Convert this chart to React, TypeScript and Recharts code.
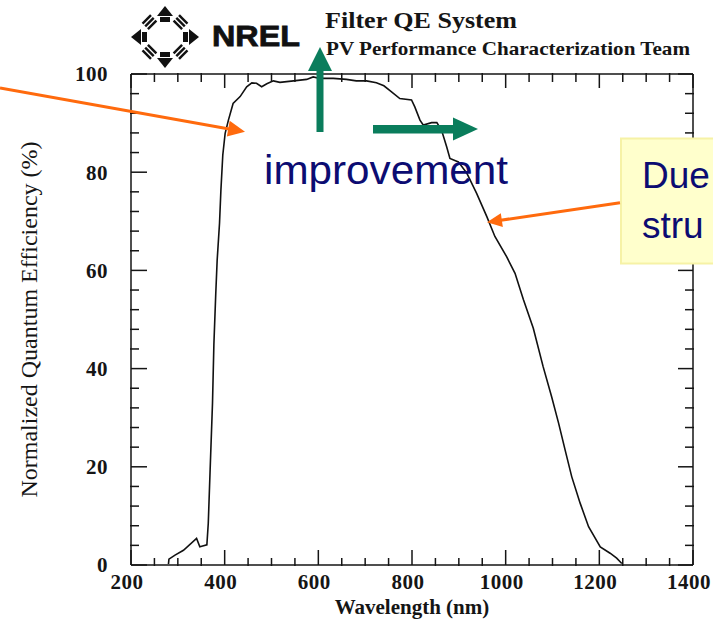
import React from 'react'
import { LineChart, Line, XAxis, YAxis } from 'recharts'

// (nm, normalized QE %)
const wavelength = [
  280, 281, 294, 312, 340, 347, 351, 362, 365, 369, 374, 377, 381, 384, 389, 392, 396,
  401, 408, 418, 433, 447, 458, 468, 479, 490, 504, 518, 547, 575, 589, 603, 632, 660,
  681, 703, 724, 740, 753, 774, 799, 806, 817, 824, 842, 853, 863, 874, 881, 899, 917,
  938, 960, 977, 1002, 1020, 1038, 1059, 1080, 1098, 1113, 1127, 1141, 1159, 1177,
  1202, 1223, 1237, 1248,
]
const efficiency = [
  0.2, 1.2, 2.0, 3.0, 5.4, 3.7, 3.8, 4.1, 8.5, 19.5, 32.9, 45.0, 55.3, 62.1, 69.6, 76.4, 83.5,
  87.9, 90.6, 94.0, 95.4, 97.4, 98.2, 98.1, 97.4, 98.0, 98.6, 98.3, 98.6, 98.9, 99.4, 99.1, 99.1, 98.9,
  98.6, 98.6, 98.2, 97.6, 96.6, 95.0, 94.7, 93.3, 90.6, 89.6, 90.1, 90.1, 88.6, 85.2, 82.8, 82.1, 79.8,
  75.7, 70.9, 66.9, 62.8, 59.4, 54.0, 48.2, 40.4, 34.3, 28.9, 23.4, 18.0, 12.6, 7.8,
  3.7, 2.4, 1.4, 0.3,
]

const xMajorTicks = [200, 400, 600, 800, 1000, 1200, 1400]
const xMinorTicks = [250, 300, 350, 450, 500, 550, 650, 700, 750, 850, 900, 950, 1050, 1100, 1150, 1250, 1300, 1350]
const yMajorTicks = [0, 20, 40, 60, 80, 100]
const yMinorTicks = [4, 8, 12, 16, 24, 28, 32, 36, 44, 48, 52, 56, 64, 68, 72, 76, 84, 88, 92, 96]

const data = wavelength.map((w, i) => ({ w, qe: efficiency[i] }))

const INK = '#151515'
const SERIF = '"Liberation Serif", "Times New Roman", serif'
const SANS = '"Liberation Sans", Arial, sans-serif'
const NAVY = '#0c0c72'
const ORANGE = '#ff6a0d'
const GREEN = '#0a7d5c'

const frame = { stroke: INK, strokeWidth: 1.5 }
const tickFont = { fill: INK, fontSize: 21, fontFamily: SERIF, fontWeight: 'bold', letterSpacing: 0.5 }
const blank = () => ''

function arrowHead(x1: number, y1: number, x2: number, y2: number, len: number, half: number) {
  const dx = x2 - x1
  const dy = y2 - y1
  const d = Math.hypot(dx, dy)
  const ux = dx / d
  const uy = dy / d
  const bx = x2 - ux * len
  const by = y2 - uy * len
  return `${x2},${y2} ${bx - uy * half},${by + ux * half} ${bx + uy * half},${by - ux * half}`
}

function Logo() {
  const cx = 165
  const cy = 37
  const diag = [45, 135, 225, 315]
  return (
    <g fill="#111">
      <polygon points={`${cx},6 ${cx - 8},16 ${cx + 8},16`} />
      <rect x={cx - 5} y={17} width={10} height={5} />
      <polygon points={`${cx},68 ${cx - 8},58 ${cx + 8},58`} />
      <rect x={cx - 5} y={52} width={10} height={5} />
      <polygon points={`131,${cy} 141,${cy - 8} 141,${cy + 8}`} />
      <rect x={142} y={cy - 5} width={5} height={10} />
      <polygon points={`199,${cy} 189,${cy - 8} 189,${cy + 8}`} />
      <rect x={183} y={cy - 5} width={5} height={10} />
      {diag.map(a => {
        const r = (a * Math.PI) / 180
        const px = cx + Math.cos(r) * 22
        const py = cy + Math.sin(r) * 21
        return (
          <g key={a} transform={`translate(${px},${py}) rotate(${a + 90})`}>
            <rect x={-6} y={-5} width={12} height={2.4} />
            <rect x={-6} y={-1.2} width={12} height={2.4} />
            <rect x={-6} y={2.6} width={12} height={2.4} />
          </g>
        )
      })}
      <text x={212} y={46} fontFamily={SANS} fontWeight={900} fontSize={29} textLength={88} lengthAdjust="spacingAndGlyphs" stroke="#111" strokeWidth={0.8}>NREL</text>
    </g>
  )
}

function Annotations() {
  return (
    <svg width={713} height={624} style={{ position: 'absolute', left: 0, top: 0, pointerEvents: 'none' }}>
      <Logo />
      <text x={325} y={28} fontFamily={SERIF} fontWeight="bold" fontSize={23} fill={INK} textLength={192} lengthAdjust="spacingAndGlyphs">Filter QE System</text>
      <text x={326} y={55} fontFamily={SERIF} fontWeight="bold" fontSize={19} fill={INK} textLength={364} lengthAdjust="spacingAndGlyphs">PV Performance Characterization Team</text>

      {/* green arrows */}
      <rect x={316.5} y={70} width={7} height={62} fill={GREEN} />
      <polygon points="308,71 332,71 320,47" fill={GREEN} />
      <rect x={373} y={125} width={82} height={8.5} fill={GREEN} />
      <polygon points="453,117.5 453,140.5 478,129" fill={GREEN} />

      <text x={264} y={184} fontFamily={SANS} fontSize={40} fill={NAVY} textLength={244} lengthAdjust="spacingAndGlyphs">improvement</text>

      {/* orange arrow from the left */}
      <line x1={0} y1={88} x2={232} y2={129.4} stroke={ORANGE} strokeWidth={3} />
      <polygon points={arrowHead(0, 88, 245, 131.7, 17, 8)} fill={ORANGE} />

      {/* yellow call-out box */}
      <rect x={621} y={138.5} width={110} height={125} fill="#ffffcc" stroke="#f6f2a6" strokeWidth={2} />
      <text x={642} y={188} fontFamily={SANS} fontSize={37} fill={NAVY}>Due</text>
      <text x={642} y={238} fontFamily={SANS} fontSize={37} fill={NAVY}>stru</text>
      <line x1={620} y1={202.7} x2={499} y2={220.5} stroke={ORANGE} strokeWidth={3} />
      <polygon points={arrowHead(620, 202.7, 487, 222.3, 15, 7)} fill={ORANGE} />
    </svg>
  )
}

export default function App() {
  return (
    <div style={{ position: 'absolute', left: 0, top: 0, width: 713, height: 624, background: '#fff' }}>
      <LineChart width={713} height={624} data={data} margin={{ top: 72, right: 18, bottom: 57, left: 129 }}>
        {/* bottom */}
        <XAxis xAxisId="b" dataKey="w" type="number" domain={[200, 1400]} allowDataOverflow ticks={xMajorTicks} interval={0}
          height={1} tickSize={-15} tickMargin={24} axisLine={frame} tickLine={frame} tick={{ ...tickFont, dx: -4 }}
          label={{ value: 'Wavelength (nm)', position: 'bottom', offset: 33, style: { fill: INK, fontSize: 21, fontFamily: SERIF, fontWeight: 'bold' } }} />
        <XAxis xAxisId="bm" dataKey="w" type="number" domain={[200, 1400]} allowDataOverflow ticks={xMinorTicks} interval={0}
          height={1} tickSize={-8} axisLine={false} tickLine={frame} tickFormatter={blank} />
        {/* top */}
        <XAxis xAxisId="t" orientation="top" dataKey="w" type="number" domain={[200, 1400]} allowDataOverflow ticks={xMajorTicks} interval={0}
          height={1} tickSize={-14} axisLine={frame} tickLine={frame} tickFormatter={blank} />
        <XAxis xAxisId="tm" orientation="top" dataKey="w" type="number" domain={[200, 1400]} allowDataOverflow ticks={xMinorTicks} interval={0}
          height={1} tickSize={-9} axisLine={false} tickLine={frame} tickFormatter={blank} />
        {/* left */}
        <YAxis yAxisId="l" type="number" domain={[0, 100]} allowDataOverflow ticks={yMajorTicks} interval={0}
          width={1} tickSize={-16} tickMargin={39} axisLine={frame} tickLine={frame} tick={tickFont}
          label={{ value: 'Normalized Quantum Efficiency (%)', angle: -90, position: 'left', offset: 102, style: { textAnchor: 'middle', fill: INK, fontSize: 24, fontFamily: SERIF } }} />
        <YAxis yAxisId="lm" type="number" domain={[0, 100]} allowDataOverflow ticks={yMinorTicks} interval={0}
          width={1} tickSize={-9} axisLine={false} tickLine={frame} tickFormatter={blank} />
        {/* right */}
        <YAxis yAxisId="r" orientation="right" type="number" domain={[0, 100]} allowDataOverflow ticks={yMajorTicks} interval={0}
          width={1} tickSize={-15} axisLine={frame} tickLine={frame} tickFormatter={blank} />
        <YAxis yAxisId="rm" orientation="right" type="number" domain={[0, 100]} allowDataOverflow ticks={yMinorTicks} interval={0}
          width={1} tickSize={-9} axisLine={false} tickLine={frame} tickFormatter={blank} />

        <Line xAxisId="b" yAxisId="l" dataKey="qe" type="linear" stroke="#111" strokeWidth={1.6}
          dot={false} activeDot={false} isAnimationActive={false} />
      </LineChart>
      <Annotations />
    </div>
  )
}
